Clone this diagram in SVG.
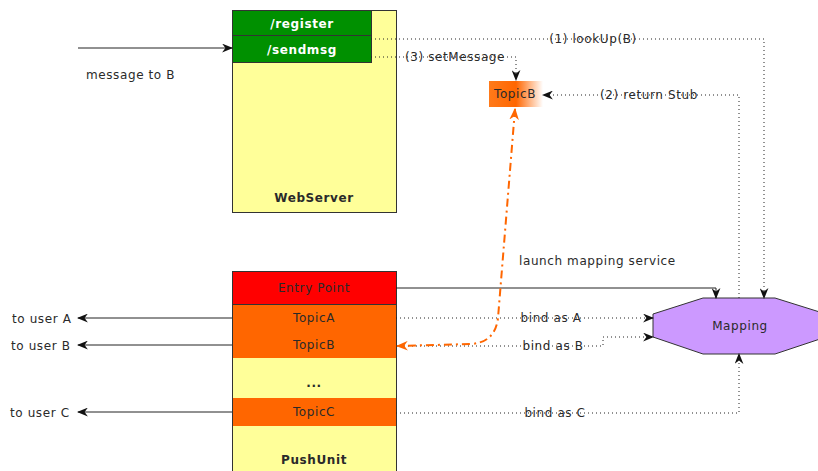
<svg xmlns="http://www.w3.org/2000/svg" width="818" height="471" viewBox="0 0 818 471">
<defs>
<style>
text{font-family:"DejaVu Sans","Liberation Sans",sans-serif;font-size:12px;letter-spacing:0.6px;fill:#2a2a2a;}
.c{text-anchor:middle;}
.b{font-weight:bold;}
.w{fill:#fff;}
.box{stroke:#333;stroke-width:1;}
.solid{fill:none;stroke:#222;stroke-width:1;}
.dot{fill:none;stroke:#222;stroke-width:1;stroke-dasharray:1 3;}
.orange{fill:none;stroke:#ff6600;stroke-width:2;stroke-dasharray:8 4 2 4;}
</style>
<marker id="ah" viewBox="0 0 10 8" refX="9" refY="4" markerWidth="11" markerHeight="9" markerUnits="userSpaceOnUse" orient="auto">
<path d="M0,0 L10,4 L0,8 L3,4 z" fill="#111"/>
</marker>
<marker id="ahO" viewBox="0 0 10 8" refX="9" refY="4" markerWidth="12" markerHeight="10" markerUnits="userSpaceOnUse" orient="auto-start-reverse">
<path d="M0,0 L10,4 L0,8 L3,4 z" fill="#ff6600"/>
</marker>
<linearGradient id="gB" x1="0" y1="0" x2="1" y2="0">
<stop offset="0" stop-color="#ff7a1a"/>
<stop offset="0.5" stop-color="#ff6600"/>
<stop offset="1" stop-color="#ffffff"/>
</linearGradient>
</defs>

<g id="webserver">
<rect class="box" x="232.5" y="10.5" width="164" height="202" fill="#ffff99"/>
<rect class="box" x="232.5" y="10.5" width="139" height="25" fill="#009000"/>
<rect class="box" x="232.5" y="35.5" width="139" height="27" fill="#009000"/>
<text class="c b w" x="302" y="28">/register</text>
<text class="c b w" x="302" y="54">/sendmsg</text>
<text class="c b" x="314" y="202">WebServer</text>
</g>

<g id="topicB-stub">
<rect x="489" y="81" width="54" height="26" fill="url(#gB)"/>
<text class="c" x="515" y="98">TopicB</text>
</g>

<g id="pushunit">
<rect class="box" x="232.5" y="271.5" width="164" height="210" fill="#ffff99"/>
<rect class="box" x="232.5" y="271.5" width="164" height="33" fill="#ff0000"/>
<rect x="233" y="305" width="163" height="53" fill="#ff6600"/>
<rect x="233" y="398" width="163" height="28" fill="#ff6600"/>
<text class="c" x="314" y="292">Entry Point</text>
<text class="c" x="314" y="322">TopicA</text>
<text class="c" x="314" y="349">TopicB</text>
<text class="c b" x="314" y="387">...</text>
<text class="c" x="314" y="416">TopicC</text>
<text class="c b" x="314" y="464">PushUnit</text>
</g>

<g id="mapping">
<polygon class="box" points="653,314 703,298 775,298 826,314 826,337 775,354 703,354 653,337" fill="#cc99ff"/>
<text class="c" x="740" y="330">Mapping</text>
</g>

<g id="connectors">
<line class="solid" x1="78" y1="48" x2="232" y2="48" marker-end="url(#ah)"/>
<text x="86" y="79">message to B</text>

<polyline class="dot" points="371,39 764,39 764,298" marker-end="url(#ah)"/>
<text class="c" x="593" y="43">(1) lookUp(B)</text>

<polyline class="dot" points="371,57 516,57 516,80" marker-end="url(#ah)"/>
<text class="c" x="455" y="61">(3) setMessage</text>

<polyline class="dot" points="739,298 739,95 543,95" marker-end="url(#ah)"/>
<text class="c" x="649" y="99">(2) return Stub</text>

<polyline class="solid" points="396,288 716,288 716,298" marker-end="url(#ah)"/>
<text x="519" y="265">launch mapping service</text>

<line class="dot" x1="396" y1="318" x2="653" y2="318" marker-end="url(#ah)"/>
<text class="c" x="551" y="322">bind as A</text>

<polyline class="dot" points="396,346 603,346 603,337 653,337" marker-end="url(#ah)"/>
<text class="c" x="553" y="350">bind as B</text>

<polyline class="dot" points="396,413 739,413 739,354" marker-end="url(#ah)"/>
<text class="c" x="555" y="417">bind as C</text>

<path class="orange" d="M515,109 L498,318 Q495,343 470,344 L397,346" marker-start="url(#ahO)" marker-end="url(#ahO)"/>

<line class="solid" x1="232" y1="318" x2="78" y2="318" marker-end="url(#ah)"/>
<text x="12" y="323">to user A</text>
<line class="solid" x1="232" y1="345" x2="78" y2="345" marker-end="url(#ah)"/>
<text x="11" y="350">to user B</text>
<line class="solid" x1="232" y1="412" x2="78" y2="412" marker-end="url(#ah)"/>
<text x="10" y="417">to user C</text>
</g>
</svg>
